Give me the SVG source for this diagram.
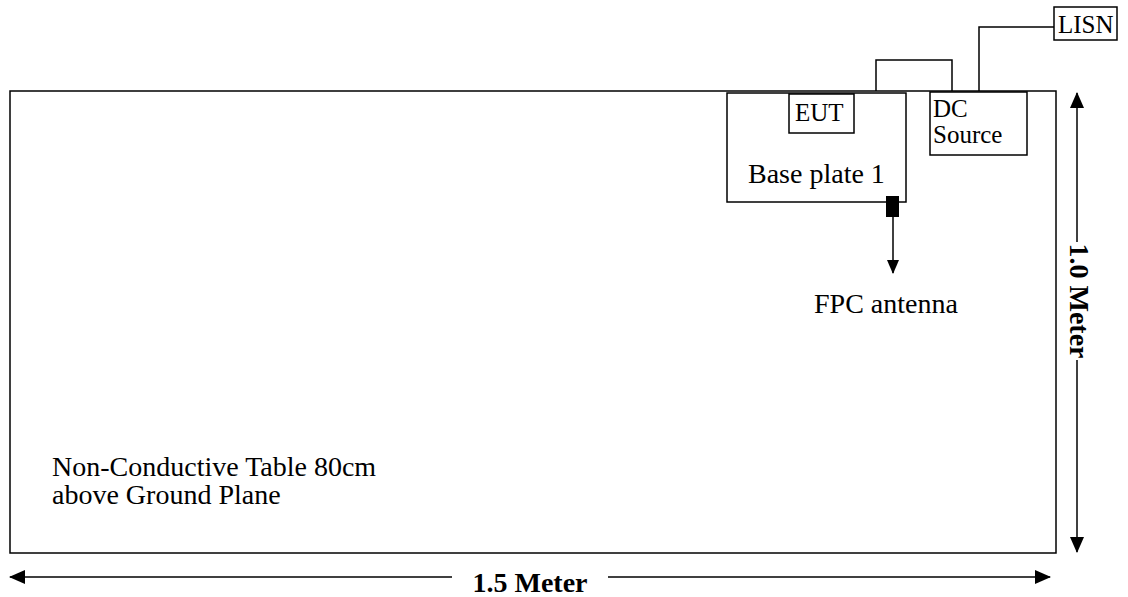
<svg xmlns="http://www.w3.org/2000/svg" width="1128" height="597" viewBox="0 0 1128 597">
<style>
.b{fill:#fff;stroke:#000;stroke-width:1.5}
.w{fill:none;stroke:#000;stroke-width:1.5}
.t{font-family:"Liberation Serif",serif;fill:#000;font-size:28px}
.s{font-family:"Liberation Serif",serif;fill:#000;font-size:25px}
.d{font-family:"Liberation Serif",serif;font-weight:bold;fill:#000;font-size:28px}
</style>
<defs>
<marker id="ah" markerWidth="14" markerHeight="12" refX="13" refY="6" orient="auto" markerUnits="userSpaceOnUse"><path d="M0,0 L14,6 L0,12 z" fill="#000"/></marker>
<marker id="ah2" markerWidth="16" markerHeight="14" refX="15" refY="7" orient="auto" markerUnits="userSpaceOnUse"><path d="M0,0 L16,7 L0,14 z" fill="#000"/></marker>
</defs>
<g id="table">
<rect class="b" x="10" y="91" width="1046" height="462"/>
<text class="t" x="52" y="476">Non-Conductive Table 80cm</text>
<text class="t" x="52" y="504">above Ground Plane</text>
</g>
<g id="baseplate">
<rect class="b" x="727" y="93" width="179" height="109"/>
<text class="t" x="748" y="183">Base plate 1</text>
</g>
<g id="eut">
<rect class="b" x="789" y="94" width="65" height="39"/>
<text class="s" x="795" y="121">EUT</text>
</g>
<g id="dcsource">
<rect class="b" x="930" y="92" width="97" height="63"/>
<text class="s" x="933" y="117">DC</text>
<text class="s" x="933" y="143">Source</text>
</g>
<g id="lisn">
<rect class="b" x="1054" y="7" width="63" height="33"/>
<text class="s" x="1058" y="33">LISN</text>
</g>
<g id="antenna">
<rect x="886" y="196" width="13" height="21" fill="#000"/>
<text class="t" x="814" y="313">FPC antenna</text>
</g>
<g id="connectors">
<polyline class="w" points="876,91 876,60 952,60 952,91"/>
<polyline class="w" points="979,91 979,27 1054,27"/>
<line class="w" x1="893" y1="217" x2="893" y2="273" marker-end="url(#ah)"/>
<line class="w" x1="1077" y1="242" x2="1077" y2="93" marker-end="url(#ah2)"/>
<line class="w" x1="1077" y1="360" x2="1077" y2="552" marker-end="url(#ah2)"/>
<line class="w" x1="452" y1="577" x2="10" y2="577" stroke-width="2.5" marker-end="url(#ah2)"/>
<line class="w" x1="608" y1="577" x2="1050" y2="577" stroke-width="2.5" marker-end="url(#ah2)"/>
</g>
<g id="dims">
<text class="d" x="530" y="592" text-anchor="middle">1.5 Meter</text>
<text class="d" transform="translate(1070,301) rotate(90)" text-anchor="middle">1.0 Meter</text>
</g>
</svg>
